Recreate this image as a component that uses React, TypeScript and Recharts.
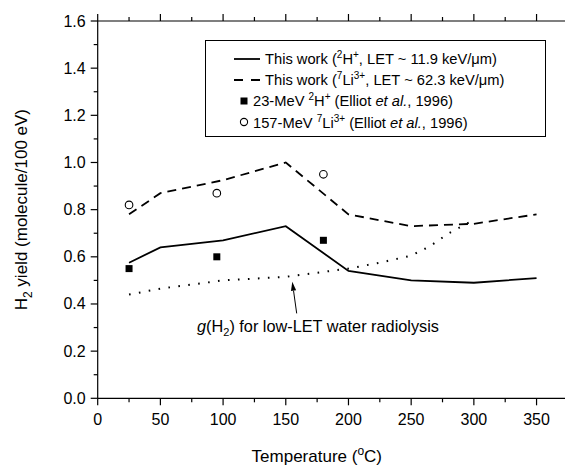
import React from "react";
import {
  ComposedChart,
  Line,
  Scatter,
  XAxis,
  YAxis,
  ReferenceLine,
  ReferenceDot,
  Legend,
} from "recharts";

// ---------- data ----------
const solidTemps = [25, 50, 100, 150, 200, 250, 300, 350];
const solidYields = [0.575, 0.64, 0.67, 0.73, 0.54, 0.5, 0.49, 0.51];

const dashedTemps = [25, 50, 100, 150, 200, 250, 300, 350];
const dashedYields = [0.78, 0.87, 0.925, 1.0, 0.78, 0.73, 0.74, 0.78];

const dottedTemps = [25, 50, 100, 150, 200, 225, 250, 265, 280, 297];
const dottedYields = [0.44, 0.465, 0.5, 0.515, 0.55, 0.575, 0.605, 0.645, 0.7, 0.748];

const squareTemps = [25, 95, 180];
const squareYields = [0.55, 0.6, 0.67];

const circleTemps = [25, 95, 180];
const circleYields = [0.82, 0.87, 0.95];

const xTicks = [0, 25, 50, 75, 100, 125, 150, 175, 200, 225, 250, 275, 300, 325, 350, 375];
const yTicks = [0, 0.1, 0.2, 0.3, 0.4, 0.5, 0.6, 0.7, 0.8, 0.9, 1.0, 1.1, 1.2, 1.3, 1.4, 1.5, 1.6];

const arrowFrom = { x: 158.7, y: 0.36 };
const arrowTo = { x: 155.2, y: 0.494 };
const noteAt = { x: 79.2, y: 0.281 };

const legendItems = [
  { kind: "solid" },
  { kind: "dashed" },
  { kind: "square" },
  { kind: "circle" },
];

const zip = (xs: number[], ys: number[]) => xs.map((x, i) => ({ x, y: ys[i] }));
const solidData = zip(solidTemps, solidYields);
const dashedData = zip(dashedTemps, dashedYields);
const dottedData = zip(dottedTemps, dottedYields);
const squareData = zip(squareTemps, squareYields);
const circleData = zip(circleTemps, circleYields);

const FONT = "Arial, 'Liberation Sans', sans-serif";

// ---------- custom pieces ----------
const XTick = (props: any) => {
  const { x, y, payload } = props;
  const v = payload.value;
  const major = v % 50 === 0;
  return (
    <g>
      <line x1={x} x2={x} y1={y} y2={y + (major ? 7 : 4)} stroke="#000" strokeWidth={1.2} />
      {major && v <= 350 && (
        <text x={x} y={y + 27} textAnchor="middle" fontSize={16} fontFamily={FONT} fill="#000">
          {v}
        </text>
      )}
    </g>
  );
};

const TopTick = (props: any) => {
  const { x, y, payload } = props;
  const major = payload.value % 50 === 0;
  return <line x1={x} x2={x} y1={y} y2={y - (major ? 7 : 4)} stroke="#000" strokeWidth={1.2} />;
};

const YTick = (props: any) => {
  const { x, y, payload } = props;
  const v = payload.value;
  const major = Math.round(v * 10) % 2 === 0;
  return (
    <g>
      <line x1={x} x2={x - (major ? 7 : 4)} y1={y} y2={y} stroke="#000" strokeWidth={1.2} />
      {major && (
        <text x={x - 12} y={y + 5.5} textAnchor="end" fontSize={16} fontFamily={FONT} fill="#000">
          {v.toFixed(1)}
        </text>
      )}
    </g>
  );
};

const SquareShape = (props: any) => {
  const { cx, cy } = props;
  return <rect x={cx - 3.5} y={cy - 3.5} width={7} height={7} fill="#000" />;
};

const CircleShape = (props: any) => {
  const { cx, cy } = props;
  return <circle cx={cx} cy={cy} r={3.8} fill="#fff" stroke="#000" strokeWidth={1.1} />;
};

const ArrowShape = (p: any) => {
  const { x1, y1, x2, y2 } = p;
  const ang = Math.atan2(y2 - y1, x2 - x1);
  const L = 9;
  const W = 2.6;
  const bx = x2 - L * Math.cos(ang);
  const by = y2 - L * Math.sin(ang);
  const px = -Math.sin(ang) * W;
  const py = Math.cos(ang) * W;
  return (
    <g>
      <line x1={x1} y1={y1} x2={bx} y2={by} stroke="#000" strokeWidth={1} />
      <polygon points={`${x2},${y2} ${bx + px},${by + py} ${bx - px},${by - py}`} fill="#000" />
    </g>
  );
};

const NoteShape = (p: any) => {
  const { cx, cy } = p;
  return (
    <text x={cx} y={cy} fontSize={16.3} fontFamily={FONT} fill="#000">
      <tspan fontStyle="italic">g</tspan>
      <tspan>(H</tspan>
      <tspan fontSize={11} dy={4}>2</tspan>
      <tspan dy={-4}>) for low-LET water radiolysis</tspan>
    </text>
  );
};

const sup = { fontSize: 10, verticalAlign: "super", lineHeight: 0 } as React.CSSProperties;

const LegendBox = () => {
  const rowStyle: React.CSSProperties = {
    height: 21.3,
    display: "flex",
    alignItems: "center",
    position: "relative",
    whiteSpace: "nowrap",
  };
  const renderSample = (kind: string) => {
    if (kind === "solid")
      return (
        <svg width={26} height={4} style={{ position: "absolute", left: 28, top: 8.6 }}>
          <line x1={0} x2={26} y1={2} y2={2} stroke="#000" strokeWidth={1.8} />
        </svg>
      );
    if (kind === "dashed")
      return (
        <svg width={26} height={4} style={{ position: "absolute", left: 28, top: 8.6 }}>
          <line x1={0} x2={26} y1={2} y2={2} stroke="#000" strokeWidth={1.8} strokeDasharray="9 8" />
        </svg>
      );
    if (kind === "square")
      return (
        <svg width={10} height={10} style={{ position: "absolute", left: 33, top: 5.6 }}>
          <rect x={1.5} y={1.5} width={7} height={7} fill="#000" />
        </svg>
      );
    return (
      <svg width={10} height={10} style={{ position: "absolute", left: 33, top: 5.6 }}>
        <circle cx={5} cy={5} r={3.6} fill="#fff" stroke="#000" strokeWidth={1.1} />
      </svg>
    );
  };
  const renderText = (kind: string) => {
    if (kind === "solid")
      return (
        <span style={{ position: "absolute", left: 59 }}>
          This work (<sup style={sup}>2</sup>H<sup style={sup}>+</sup>, LET ~ 11.9 keV/μm)
        </span>
      );
    if (kind === "dashed")
      return (
        <span style={{ position: "absolute", left: 59 }}>
          This work (<sup style={sup}>7</sup>Li<sup style={sup}>3+</sup>, LET ~ 62.3 keV/μm)
        </span>
      );
    if (kind === "square")
      return (
        <span style={{ position: "absolute", left: 47 }}>
          23-MeV <sup style={sup}>2</sup>H<sup style={sup}>+</sup> (Elliot <i>et al.</i>, 1996)
        </span>
      );
    return (
      <span style={{ position: "absolute", left: 47 }}>
        157-MeV <sup style={sup}>7</sup>Li<sup style={sup}>3+</sup> (Elliot <i>et al.</i>, 1996)
      </span>
    );
  };
  return (
    <div
      style={{
        boxSizing: "border-box",
        width: 341,
        height: 97,
        border: "1.2px solid #000",
        background: "#fff",
        paddingTop: 7,
        fontFamily: FONT,
        fontSize: 14.7,
        color: "#000",
      }}
    >
      {legendItems.map((it) => (
        <div key={it.kind} style={rowStyle}>
          {renderSample(it.kind)}
          {renderText(it.kind)}
        </div>
      ))}
    </div>
  );
};

const YLabel = (props: any) => {
  const vb = props.viewBox || {};
  const cx = vb.x - 11;
  const cy = vb.y + vb.height / 2;
  return (
    <text
      x={cx}
      y={cy}
      transform={`rotate(-90, ${cx}, ${cy})`}
      textAnchor="middle"
      fontSize={17}
      fontFamily={FONT}
      fill="#000"
    >
      <tspan>H</tspan>
      <tspan fontSize={12} dy={5}>2</tspan>
      <tspan dy={-5}> yield (molecule/100 eV)</tspan>
    </text>
  );
};

const XLabel = (props: any) => {
  const vb = props.viewBox || {};
  const cx = vb.x + vb.width * 0.466;
  const cy = vb.y + 64;
  return (
    <text x={cx} y={cy} textAnchor="middle" fontSize={17} fontFamily={FONT} fill="#000">
      <tspan>Temperature (</tspan>
      <tspan fontSize={12} dy={-7}>o</tspan>
      <tspan dy={7}>C)</tspan>
    </text>
  );
};

export default function App() {
  return (
    <div
      style={{
        position: "absolute",
        left: 0,
        top: 0,
        width: 565,
        height: 468,
        overflow: "hidden",
        background: "#fff",
      }}
    >
      <ComposedChart
        width={580}
        height={468}
        margin={{ top: 20, right: 12.1, bottom: 9.7, left: 37.7 }}
      >
        <XAxis
          dataKey="x"
          type="number"
          domain={[0, 375]}
          ticks={xTicks}
          interval={0}
          tickSize={0}
          tickMargin={0}
          tickLine={false}
          tick={<XTick />}
          height={60}
          axisLine={{ stroke: "#000", strokeWidth: 1.2 }}
          allowDataOverflow
          label={<XLabel />}
        />
        <XAxis
          xAxisId="top"
          orientation="top"
          dataKey="x"
          type="number"
          domain={[0, 375]}
          ticks={xTicks}
          interval={0}
          tickSize={0}
          tickMargin={0}
          tickLine={false}
          tick={<TopTick />}
          height={1}
          axisLine={{ stroke: "#000", strokeWidth: 1.2 }}
          allowDataOverflow
        />
        <YAxis
          type="number"
          domain={[0, 1.6]}
          ticks={yTicks}
          interval={0}
          tickSize={0}
          tickMargin={0}
          tickLine={false}
          tick={<YTick />}
          width={60}
          axisLine={{ stroke: "#000", strokeWidth: 1.2 }}
          allowDataOverflow
          label={<YLabel />}
        />
        <Legend
          layout="vertical"
          align="center"
          verticalAlign="middle"
          content={<LegendBox />}
          wrapperStyle={{ left: 205, top: 40, width: 341, height: 97 }}
        />
        <Line
          data={dottedData}
          dataKey="y"
          type="linear"
          stroke="#000"
          strokeWidth={2}
          strokeDasharray="1.6 8.4"
          dot={false}
          activeDot={false}
          isAnimationActive={false}
          legendType="none"
        />
        <Line
          data={solidData}
          dataKey="y"
          type="linear"
          stroke="#000"
          strokeWidth={1.8}
          dot={false}
          activeDot={false}
          isAnimationActive={false}
        />
        <Line
          data={dashedData}
          dataKey="y"
          type="linear"
          stroke="#000"
          strokeWidth={1.8}
          strokeDasharray="9 6"
          dot={false}
          activeDot={false}
          isAnimationActive={false}
        />
        <Scatter data={squareData} dataKey="y" shape={<SquareShape />} isAnimationActive={false} />
        <Scatter data={circleData} dataKey="y" shape={<CircleShape />} isAnimationActive={false} />
        <ReferenceLine segment={[arrowFrom, arrowTo]} shape={<ArrowShape />} />
        <ReferenceDot x={noteAt.x} y={noteAt.y} r={0} shape={<NoteShape />} />
      </ComposedChart>
    </div>
  );
}
